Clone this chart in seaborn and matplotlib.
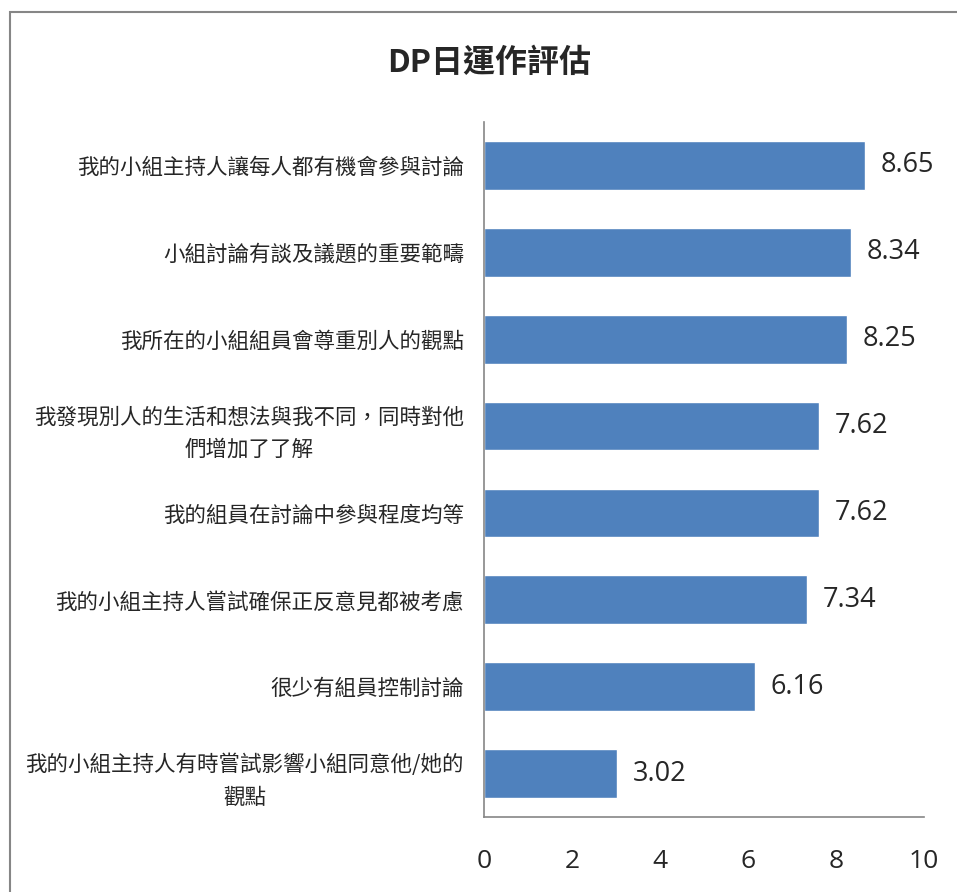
import matplotlib
matplotlib.use('Agg')
import matplotlib.pyplot as plt
from matplotlib.patches import Rectangle
import pandas as pd
import seaborn as sns

sns.set_style('white')
plt.rcParams['font.family'] = ['Noto Sans CJK TC', 'DejaVu Sans']

title = 'DP日運作評估'
items = ['我的小組主持人讓每人都有機會參與討論',
         '小組討論有談及議題的重要範疇',
         '我所在的小組組員會尊重別人的觀點',
         '我發現別人的生活和想法與我不同，同時對他\n們增加了了解',
         '我的組員在討論中參與程度均等',
         '我的小組主持人嘗試確保正反意見都被考慮',
         '很少有組員控制討論',
         '我的小組主持人有時嘗試影響小組同意他/她的\n觀點']
scores = [8.65, 8.34, 8.25, 7.62, 7.62, 7.34, 6.16, 3.02]
xticks = [0, 2, 4, 6, 8, 10]

df = pd.DataFrame({'item': items, 'score': scores})

num_font = ['Open Sans', 'DejaVu Sans']

fig = plt.figure(figsize=(9.57, 8.92), dpi=100)
ax = fig.add_axes([484/957, 1 - 817/892, 440/957, 695/892])

sns.barplot(data=df, x='score', y='item', color='#4F81BD', saturation=1,
            width=0.56, ax=ax)

for i, v in enumerate(scores):
    ax.text(v + 0.36, i, f'{v:.2f}', va='center', ha='left', fontsize=19.5,
            family=num_font)

ax.set_xlim(0, 10)
ax.set_xticks(xticks)
ax.set_xticklabels([str(t) for t in xticks], fontsize=19, family=num_font)
ax.tick_params(axis='x', length=0, pad=23)
ax.tick_params(axis='y', length=0, pad=14.5, labelsize=15.5)
for lab in ax.get_yticklabels():
    lab.set_multialignment('center')
    lab.set_linespacing(1.6)
ax.set_xlabel('')
ax.set_ylabel('')
for s in ['top', 'right']:
    ax.spines[s].set_visible(False)
for s in ['left', 'bottom']:
    ax.spines[s].set_color('#868686')
    ax.spines[s].set_linewidth(1.2)

fig.text(489/957, 1 - 63/892, title, ha='center', va='center', fontsize=23,
         fontweight='bold')

# outer chart border (cut by the image edge)
fig.patches.append(Rectangle((10/957, -0.05), 1.0, 1 - 12/892 + 0.05,
                             transform=fig.transFigure, fill=False,
                             edgecolor='#868686', linewidth=1.5))

plt.savefig('out.png', dpi=100)
